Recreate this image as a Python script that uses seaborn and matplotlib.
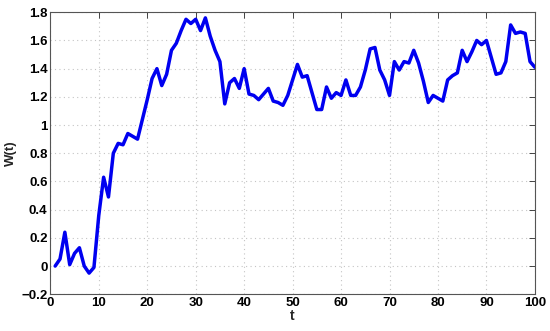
import numpy as np
import pandas as pd
import matplotlib
matplotlib.use("Agg")
import matplotlib.pyplot as plt
import seaborn as sns
from matplotlib.ticker import FuncFormatter

# t = 1..100
t = list(range(1, 101))
w = [0.00, 0.05, 0.24, 0.01, 0.09, 0.13, 0.00, -0.05, -0.01, 0.36,
     0.63, 0.49, 0.80, 0.87, 0.86, 0.94, 0.92, 0.90, 1.04, 1.18,
     1.33, 1.40, 1.28, 1.36, 1.53, 1.58, 1.67, 1.75, 1.72, 1.75,
     1.67, 1.76, 1.63, 1.53, 1.45, 1.15, 1.30, 1.33, 1.26, 1.40,
     1.22, 1.21, 1.18, 1.22, 1.26, 1.17, 1.16, 1.14, 1.21, 1.32,
     1.43, 1.34, 1.35, 1.23, 1.11, 1.11, 1.27, 1.19, 1.23, 1.21,
     1.32, 1.21, 1.21, 1.27, 1.39, 1.54, 1.55, 1.39, 1.32, 1.21,
     1.45, 1.39, 1.45, 1.44, 1.53, 1.44, 1.31, 1.16, 1.21, 1.19,
     1.17, 1.32, 1.35, 1.37, 1.53, 1.45, 1.52, 1.60, 1.57, 1.60,
     1.48, 1.36, 1.37, 1.45, 1.71, 1.65, 1.66, 1.65, 1.45, 1.41]

df = pd.DataFrame({"t": t, "W(t)": w})

sns.set_style("white")
plt.rcParams['font.family'] = ['Liberation Sans', 'DejaVu Sans']

fig = plt.figure(figsize=(5.5, 3.31), dpi=100)
ax = fig.add_axes([0.0915, 0.111, 0.881, 0.852])

sns.lineplot(data=df, x="t", y="W(t)", ax=ax, color="#0000f0", linewidth=2.5)

ax.set_xlim(0, 100)
ax.set_ylim(-0.2, 1.8)
ax.set_xticks(np.arange(0, 101, 10))
ax.set_yticks(np.arange(-0.2, 1.81, 0.2))
ax.yaxis.set_major_formatter(FuncFormatter(lambda v, p: f"{v:.1f}".rstrip("0").rstrip(".").replace("-", "\u2212") if abs(v) > 1e-9 else "0"))

ax.grid(True, linestyle=(0, (1, 3)), color="#c4c4c4", linewidth=0.8)
ax.tick_params(direction="in", length=4, width=0.6, labelsize=9.5, pad=2,
               top=True, right=True, labelcolor="black")
for lab in ax.get_xticklabels() + ax.get_yticklabels():
    lab.set_fontweight("bold")
for s in ax.spines.values():
    s.set_color("#555555")
    s.set_linewidth(0.8)

ax.set_xlabel("t", fontsize=10, fontweight="bold", labelpad=0)
ax.set_ylabel("W(t)", fontsize=9.5, fontweight="bold", labelpad=3)

fig.savefig("out.png", dpi=100)
